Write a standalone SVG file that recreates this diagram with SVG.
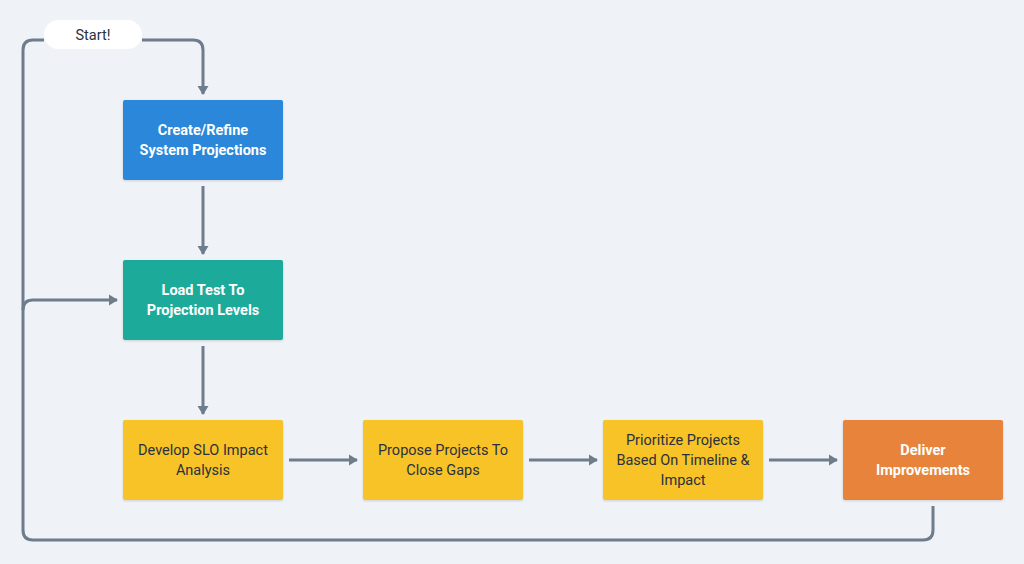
<svg xmlns="http://www.w3.org/2000/svg" width="1024" height="564" viewBox="0 0 1024 564">
<defs>
<style>
.bg{fill:#eff3f7}
.edge{fill:none;stroke:#6e7d8c;stroke-width:3}
.box{stroke:none}
.t{font-family:Roboto,"Liberation Sans",sans-serif;font-size:14.5px;text-anchor:middle;dominant-baseline:central}
.w{fill:#ffffff;font-weight:bold}
.d{fill:#2a3140}
</style>
<marker id="ah" markerWidth="12" markerHeight="12" refX="8" refY="6" orient="auto" markerUnits="userSpaceOnUse">
<path d="M0,0.5 L9,6 L0,11.5 Z" fill="#6e7d8c"/>
</marker>
<filter id="sh" x="-10%" y="-10%" width="120%" height="130%">
<feDropShadow dx="0" dy="1" stdDeviation="1" flood-color="#000" flood-opacity="0.15"/>
</filter>
</defs>
<rect class="bg" x="0" y="0" width="1024" height="564"/>
<g id="connectors">
<path class="edge" d="M142,40 H193 Q203,40 203,50 V94" marker-end="url(#ah)"/>
<path class="edge" d="M203,186 V254" marker-end="url(#ah)"/>
<path class="edge" d="M203,346 V414" marker-end="url(#ah)"/>
<path class="edge" d="M289,460 H357" marker-end="url(#ah)"/>
<path class="edge" d="M529,460 H597" marker-end="url(#ah)"/>
<path class="edge" d="M769,460 H837" marker-end="url(#ah)"/>
<path class="edge" d="M933,506 V530 Q933,540 923,540 H33 Q23,540 23,530 V50 Q23,40 33,40 H44"/>
<path class="edge" d="M23,310 Q23,300 33,300 H117" marker-end="url(#ah)"/>
</g>
<g id="start">
<rect x="44" y="20" width="98" height="29" rx="14.5" fill="#ffffff"/>
<text class="t d" x="93" y="35">Start!</text>
</g>
<g id="n1">
<rect class="box" x="123" y="100" width="160" height="80" rx="2" fill="#2b87d9" filter="url(#sh)"/>
<text class="t w" x="203" y="130">Create/Refine</text>
<text class="t w" x="203" y="150">System Projections</text>
</g>
<g id="n2">
<rect class="box" x="123" y="260" width="160" height="80" rx="2" fill="#1aab9a" filter="url(#sh)"/>
<text class="t w" x="203" y="290">Load Test To</text>
<text class="t w" x="203" y="310">Projection Levels</text>
</g>
<g id="n3">
<rect class="box" x="123" y="420" width="160" height="80" rx="2" fill="#f7c325" filter="url(#sh)"/>
<text class="t d" x="203" y="450">Develop SLO Impact</text>
<text class="t d" x="203" y="470">Analysis</text>
</g>
<g id="n4">
<rect class="box" x="363" y="420" width="160" height="80" rx="2" fill="#f7c325" filter="url(#sh)"/>
<text class="t d" x="443" y="450">Propose Projects To</text>
<text class="t d" x="443" y="470">Close Gaps</text>
</g>
<g id="n5">
<rect class="box" x="603" y="420" width="160" height="80" rx="2" fill="#f7c325" filter="url(#sh)"/>
<text class="t d" x="683" y="440">Prioritize Projects</text>
<text class="t d" x="683" y="460">Based On Timeline &amp;</text>
<text class="t d" x="683" y="480">Impact</text>
</g>
<g id="n6">
<rect class="box" x="843" y="420" width="160" height="80" rx="2" fill="#e8833a" filter="url(#sh)"/>
<text class="t w" x="923" y="450">Deliver</text>
<text class="t w" x="923" y="470">Improvements</text>
</g>
</svg>
